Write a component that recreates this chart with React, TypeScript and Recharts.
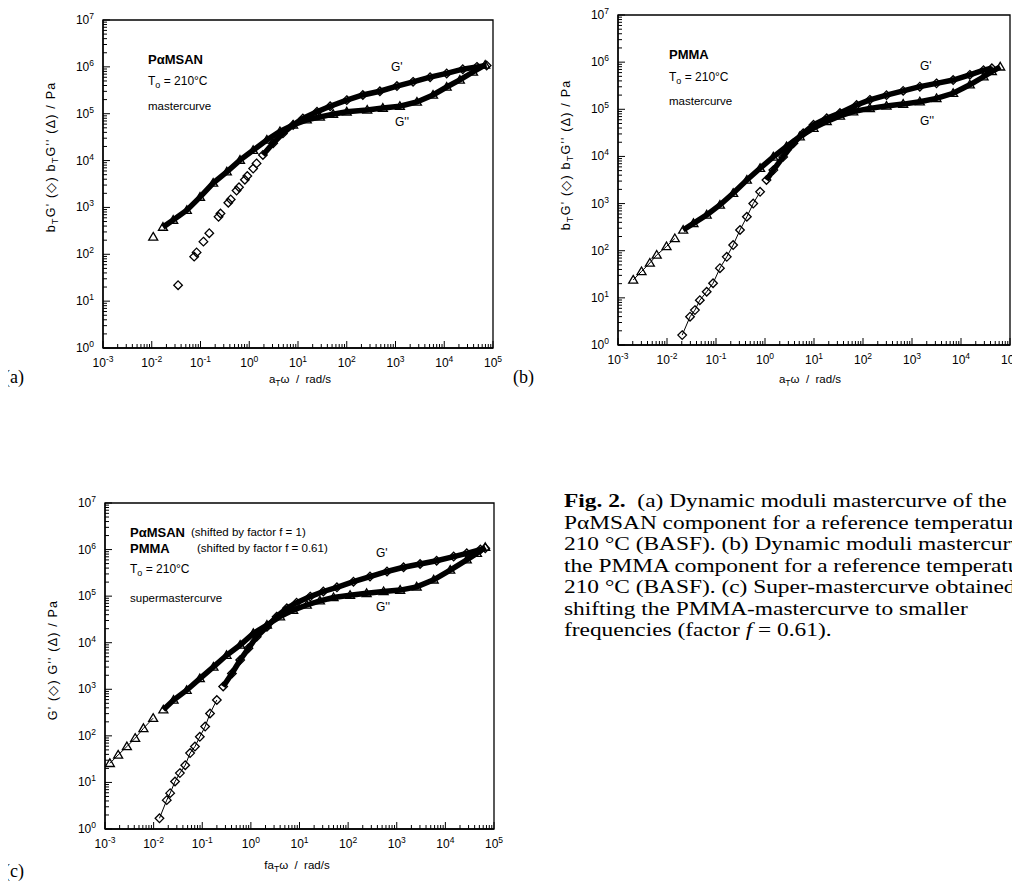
import React from 'react';
import { ScatterChart, Scatter, XAxis, YAxis, ReferenceArea } from 'recharts';

// every point is [log10 x, log10 y]
type P = [number, number];

// (a) PaMSAN mastercurve
const aStorageSparse: P[] = [
  [-1.46, 1.34], [-1.13, 1.95], [-1.08, 2.04], [-0.94, 2.27], [-0.82, 2.45], [-0.63, 2.8], [-0.59, 2.87],
  [-0.43, 3.1], [-0.38, 3.17], [-0.26, 3.36], [-0.21, 3.43], [-0.09, 3.59], [-0.04, 3.67], [0.08, 3.83], [0.15, 3.94],
];
const aStorageBand: P[] = [
  [0.28, 4.12], [0.49, 4.37], [0.69, 4.58], [0.9, 4.76], [1.1, 4.9], [1.39, 5.04], [1.66, 5.16], [2.0, 5.29],
  [2.33, 5.4], [2.68, 5.48], [3.03, 5.59], [3.36, 5.68], [3.71, 5.78], [4.05, 5.86], [4.38, 5.95], [4.67, 6.0], [4.87, 6.03],
];
const aLossSparse: P[] = [[-1.97, 2.37]];
const aLossBand: P[] = [
  [-1.77, 2.58], [-1.56, 2.73], [-1.28, 2.94], [-1.01, 3.22], [-0.74, 3.52], [-0.46, 3.76], [-0.19, 4.01],
  [0.08, 4.22], [0.36, 4.44], [0.63, 4.62], [0.9, 4.76], [1.18, 4.87], [1.45, 4.93], [1.72, 4.99], [2.0, 5.04],
  [2.42, 5.08], [2.74, 5.12], [3.09, 5.16], [3.44, 5.25], [3.77, 5.4], [4.05, 5.57], [4.32, 5.72], [4.59, 5.89], [4.84, 6.04],
];

// (b) PMMA mastercurve
const bStorageSparse: P[] = [
  [-1.69, 0.21], [-1.53, 0.6], [-1.43, 0.74], [-1.33, 0.95], [-1.19, 1.13], [-1.06, 1.31], [-0.92, 1.63],
  [-0.78, 1.87], [-0.65, 2.12], [-0.51, 2.44], [-0.37, 2.72], [-0.24, 3.0], [-0.1, 3.25],
];
const bStorageBand: P[] = [
  [0.03, 3.5], [0.17, 3.71], [0.37, 3.99], [0.58, 4.28], [0.78, 4.49], [0.99, 4.67], [1.26, 4.81], [1.53, 4.92],
  [1.87, 5.09], [2.14, 5.2], [2.48, 5.3], [2.82, 5.39], [3.16, 5.48], [3.5, 5.55], [3.84, 5.62], [4.18, 5.73],
  [4.46, 5.83], [4.63, 5.87],
];
const bLossSparse: P[] = [
  [-2.69, 1.38], [-2.52, 1.56], [-2.35, 1.74], [-2.21, 1.91], [-2.01, 2.09], [-1.84, 2.26],
];
const bLossBand: P[] = [
  [-1.67, 2.44], [-1.46, 2.58], [-1.19, 2.76], [-0.92, 2.97], [-0.65, 3.22], [-0.37, 3.5], [-0.1, 3.75],
  [0.17, 3.99], [0.44, 4.21], [0.71, 4.42], [0.99, 4.6], [1.26, 4.74], [1.53, 4.86], [1.8, 4.95], [2.14, 5.02],
  [2.48, 5.07], [2.82, 5.11], [3.16, 5.16], [3.5, 5.23], [3.84, 5.34], [4.18, 5.52], [4.46, 5.69], [4.63, 5.8], [4.8, 5.9],
];

// (c) super-mastercurve
const cStorageSparse: P[] = [
  [-1.88, 0.23], [-1.73, 0.62], [-1.66, 0.77], [-1.56, 1.02], [-1.46, 1.2], [-1.35, 1.37], [-1.25, 1.63],
  [-1.15, 1.77], [-1.05, 1.98], [-0.94, 2.2], [-0.84, 2.48], [-0.7, 2.77],
];
const cStorageBand: P[] = [
  [-0.57, 3.06], [-0.39, 3.34], [-0.22, 3.63], [-0.05, 3.88], [0.12, 4.13], [0.33, 4.34], [0.53, 4.56], [0.74, 4.74],
  [0.94, 4.86], [1.22, 4.99], [1.49, 5.1], [1.77, 5.19], [2.11, 5.31], [2.45, 5.42], [2.8, 5.53], [3.14, 5.62],
  [3.48, 5.69], [3.82, 5.76], [4.17, 5.85], [4.44, 5.92], [4.72, 6.0], [4.82, 6.03],
];
const cLossSparse: P[] = [
  [-2.9, 1.41], [-2.73, 1.59], [-2.55, 1.77], [-2.38, 1.95], [-2.21, 2.16], [-2.01, 2.38],
];
const cLossBand: P[] = [
  [-1.8, 2.56], [-1.59, 2.77], [-1.32, 2.98], [-1.05, 3.23], [-0.77, 3.48], [-0.5, 3.73], [-0.22, 3.95],
  [0.05, 4.2], [0.33, 4.38], [0.6, 4.56], [0.87, 4.7], [1.15, 4.81], [1.42, 4.9], [1.7, 4.97], [2.04, 5.02],
  [2.38, 5.06], [2.73, 5.1], [3.07, 5.13], [3.41, 5.2], [3.76, 5.35], [4.1, 5.56], [4.44, 5.78], [4.65, 5.92], [4.82, 6.05],
];

const xDecades = [-3, -2, -1, 0, 1, 2, 3, 4, 5];
const yDecades = [0, 1, 2, 3, 4, 5, 6, 7];
const minorSteps = [2, 3, 4, 5, 6, 7, 8, 9];

const SANS = '"Liberation Sans", Arial, sans-serif';
const SERIF = '"Liberation Serif", "Times New Roman", serif';

const toPts = (arr: P[]) => arr.map(([lx, ly]) => ({ x: Math.pow(10, lx), y: Math.pow(10, ly) }));

const logTicks = (decades: number[]) => {
  const out: number[] = [];
  decades.forEach((d, i) => {
    out.push(Math.pow(10, d));
    if (i < decades.length - 1) minorSteps.forEach((m) => out.push(m * Math.pow(10, d)));
  });
  return out;
};
const xTicks = logTicks(xDecades);
const yTicks = logTicks(yDecades);

const isMajor = (v: number) => {
  const lg = Math.log10(v);
  return Math.abs(lg - Math.round(lg)) < 1e-6;
};

const XTick = (props: any) => {
  const { x, y, payload } = props;
  const major = isMajor(payload.value);
  const e = Math.round(Math.log10(payload.value));
  return (
    <g>
      <line x1={x} y1={y} x2={x} y2={y - (major ? 7 : 4)} stroke="#000" strokeWidth={1} />
      {major && (
        <text x={x} y={y + 19} textAnchor="middle" fontSize={12} fontFamily={SANS} fill="#000">
          10<tspan dy={-5} fontSize={8.5}>{e}</tspan>
        </text>
      )}
    </g>
  );
};

const YTick = (props: any) => {
  const { x, y, payload } = props;
  const major = isMajor(payload.value);
  const e = Math.round(Math.log10(payload.value));
  return (
    <g>
      <line x1={x} y1={y} x2={x + (major ? 7 : 4)} y2={y} stroke="#000" strokeWidth={1} />
      {major && (
        <text x={x - 9} y={y + 4} textAnchor="end" fontSize={12} fontFamily={SANS} fill="#000">
          10<tspan dy={-5} fontSize={8.5}>{e}</tspan>
        </text>
      )}
    </g>
  );
};

const Diamond = (props: any) => {
  const { cx, cy } = props;
  const r = 4.3;
  return <path d={`M${cx},${cy - r}L${cx + r},${cy}L${cx},${cy + r}L${cx - r},${cy}Z`} fill="none" stroke="#000" strokeWidth={1.3} />;
};

const Triangle = (props: any) => {
  const { cx, cy } = props;
  const r = 4.5;
  return <path d={`M${cx},${cy - r}L${cx + r},${cy + r * 0.7}L${cx - r},${cy + r * 0.7}Z`} fill="none" stroke="#000" strokeWidth={1.3} />;
};

type PanelProps = {
  left: number; top: number; w: number; h: number;
  gpSparse: P[]; gpBand: P[]; gppSparse: P[]; gppBand: P[];
  sparseLines: boolean;
};

const Panel = ({ left, top, w, h, gpSparse, gpBand, gppSparse, gppBand, sparseLines }: PanelProps) => (
  <div style={{ position: 'absolute', left: left - 60, top: top - 10 }}>
    <ScatterChart width={60 + w + 22} height={10 + h + 45} margin={{ top: 10, right: 22, bottom: 0, left: 0 }}>
      <XAxis type="number" dataKey="x" scale="log" domain={[1e-3, 1e5]} ticks={xTicks} interval={0}
        tick={<XTick />} tickLine={false} tickSize={0} tickMargin={0} height={45}
        axisLine={{ stroke: '#000', strokeWidth: 1.3 }} allowDataOverflow />
      <YAxis type="number" dataKey="y" scale="log" domain={[1, 1e7]} ticks={yTicks} interval={0}
        tick={<YTick />} tickLine={false} tickSize={0} tickMargin={0} width={60}
        axisLine={{ stroke: '#000', strokeWidth: 1.3 }} allowDataOverflow />
      <ReferenceArea x1={1e-3} x2={1e5} y1={1} y2={1e7} fill="none" stroke="#000" strokeWidth={1.3} />
      <Scatter data={toPts(gppSparse)} shape={<Triangle />} isAnimationActive={false}
        line={sparseLines ? { stroke: '#000', strokeWidth: 1 } : false} />
      <Scatter data={toPts(gppBand)} shape={<Triangle />} isAnimationActive={false}
        line={{ stroke: '#000', strokeWidth: 5.5 }} />
      <Scatter data={toPts(gpSparse)} shape={<Diamond />} isAnimationActive={false}
        line={sparseLines ? { stroke: '#000', strokeWidth: 1 } : false} />
      <Scatter data={toPts(gpBand)} shape={<Diamond />} isAnimationActive={false}
        line={{ stroke: '#000', strokeWidth: 5.5 }} />
    </ScatterChart>
  </div>
);

const T = ({ x, y, size = 11, bold = false, children }: any) => (
  <div style={{ position: 'absolute', left: x, top: y, fontFamily: SANS, fontSize: size, fontWeight: bold ? 700 : 400, whiteSpace: 'nowrap', lineHeight: 1, color: '#000' }}>
    {children}
  </div>
);

const VT = ({ x, y, children }: any) => (
  <div style={{ position: 'absolute', left: x, top: y, transform: 'translate(-50%, -50%) rotate(-90deg)', fontFamily: SANS, fontSize: 12.5, whiteSpace: 'pre', lineHeight: 1, letterSpacing: 1.2 }}>
    {children}
  </div>
);

const HT = ({ x, y, children }: any) => (
  <div style={{ position: 'absolute', left: x, top: y, transform: 'translate(-50%, -50%)', fontFamily: SANS, fontSize: 11.5, whiteSpace: 'pre', lineHeight: 1 }}>
    {children}
  </div>
);

const sub = { fontSize: '75%', verticalAlign: '-3px' } as const;

const captionLines = [
  <><b>Fig. 2.</b>  (a) Dynamic moduli mastercurve of the</>,
  <>PαMSAN component for a reference temperature of</>,
  <>210 °C (BASF). (b) Dynamic moduli mastercurve of</>,
  <>the PMMA component for a reference temperature of</>,
  <>210 °C (BASF). (c) Super-mastercurve obtained by</>,
  <>shifting the PMMA-mastercurve to smaller</>,
  <>frequencies (factor <i>f</i> = 0.61).</>,
];

export default function App() {
  return (
    <div style={{ position: 'relative', marginLeft: -8, marginTop: -8, width: 1020, height: 886, overflow: 'hidden', background: '#fff' }}>
      <Panel left={103} top={20} w={390} h={328} gpSparse={aStorageSparse} gpBand={aStorageBand}
        gppSparse={aLossSparse} gppBand={aLossBand} sparseLines={false} />
      <Panel left={618} top={15} w={392} h={330} gpSparse={bStorageSparse} gpBand={bStorageBand}
        gppSparse={bLossSparse} gppBand={bLossBand} sparseLines={true} />
      <Panel left={105} top={503} w={389} h={326} gpSparse={cStorageSparse} gpBand={cStorageBand}
        gppSparse={cLossSparse} gppBand={cLossBand} sparseLines={true} />

      {/* panel (a) */}
      <T x={148} y={53} size={13} bold>PαMSAN</T>
      <T x={148} y={75} size={12}>T<span style={sub}>o</span> = 210°C</T>
      <T x={148} y={101} size={11.5}>mastercurve</T>
      <T x={391} y={61} size={12}>G'</T>
      <T x={395} y={116} size={12}>G''</T>
      <HT x={300} y={381}>a<span style={sub}>T</span>ω  /  rad/s</HT>
      <VT x={53} y={157}>b<span style={sub}>T</span>G' (◇) b<span style={sub}>T</span>G'' (Δ) / Pa</VT>

      {/* panel (b) */}
      <T x={669} y={48} size={13} bold>PMMA</T>
      <T x={669} y={71} size={12}>T<span style={sub}>o</span> = 210°C</T>
      <T x={669} y={96} size={11.5}>mastercurve</T>
      <T x={920} y={60} size={12}>G'</T>
      <T x={920} y={115} size={12}>G''</T>
      <HT x={810} y={381}>a<span style={sub}>T</span>ω  /  rad/s</HT>
      <VT x={568} y={155}>b<span style={sub}>T</span>G' (◇) b<span style={sub}>T</span>G'' (Δ) / Pa</VT>

      {/* panel (c) */}
      <T x={130} y={526} size={13} bold>PαMSAN</T>
      <T x={191} y={527} size={11.5}>(shifted by factor f = 1)</T>
      <T x={130} y={542} size={13} bold>PMMA</T>
      <T x={197} y={543} size={11.5}>(shifted by factor f = 0.61)</T>
      <T x={130} y={563} size={12}>T<span style={sub}>o</span> = 210°C</T>
      <T x={130} y={593} size={11.5}>supermastercurve</T>
      <T x={376} y={547} size={12}>G'</T>
      <T x={376} y={601} size={12}>G''</T>
      <HT x={297} y={867}>fa<span style={sub}>T</span>ω  /  rad/s</HT>
      <VT x={53} y={660}>G' (◇) G'' (Δ) / Pa</VT>

      {/* panel letters */}
      <div style={{ position: 'absolute', left: 4, top: 367, fontFamily: SERIF, fontSize: 18 }}>(a)</div>
      <div style={{ position: 'absolute', left: 513, top: 367, fontFamily: SERIF, fontSize: 18 }}>(b)</div>
      <div style={{ position: 'absolute', left: 4, top: 861, fontFamily: SERIF, fontSize: 18 }}>(c)</div>

      {/* caption, clipped at the right edge as in the scan */}
      <div style={{ position: 'absolute', left: 564, top: 490, fontFamily: SERIF, fontSize: 19, lineHeight: '21.5px', whiteSpace: 'pre', transform: 'scaleX(1.23)', transformOrigin: 'left top' }}>
        {captionLines.map((l, i) => <div key={i}>{l}</div>)}
      </div>
    </div>
  );
}
